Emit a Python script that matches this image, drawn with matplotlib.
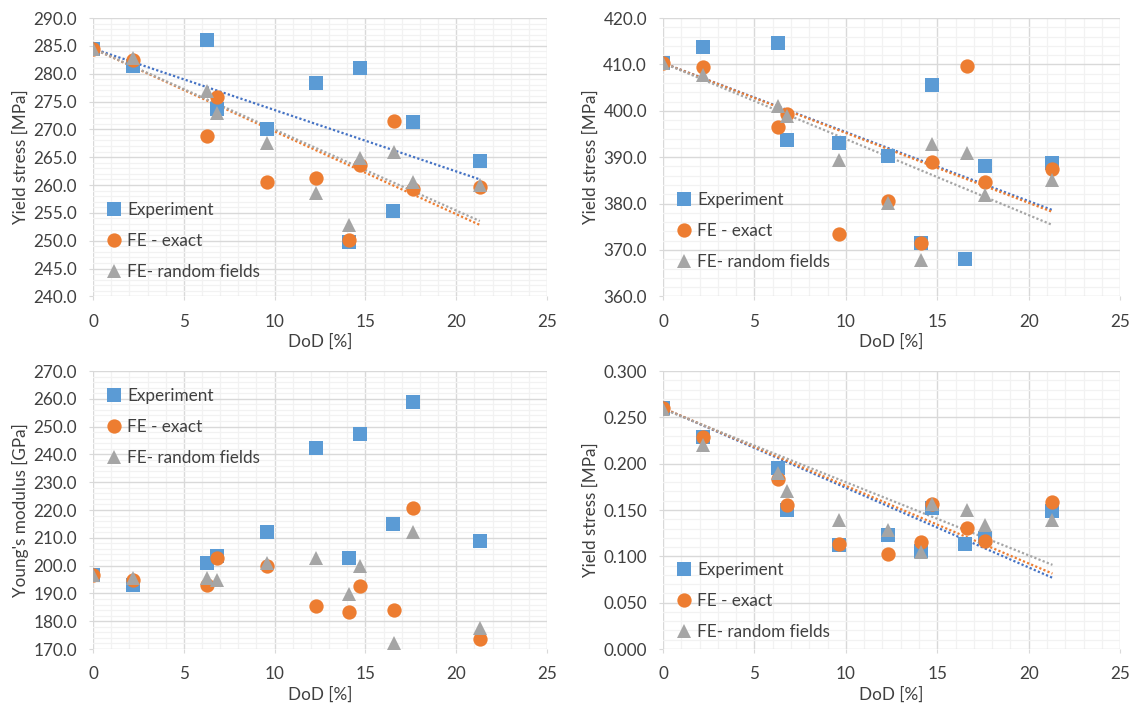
import numpy as np
import matplotlib
matplotlib.use("Agg")
import matplotlib.pyplot as plt
from matplotlib.ticker import MultipleLocator, FormatStrFormatter

plt.rcParams['font.family'] = ['Lato', 'DejaVu Sans']

# DoD [%] for all samples
dod = [0, 2.2, 6.3, 6.8, 9.6, 12.3, 14.1, 14.7, 16.6, 17.6, 21.3]
dod_exp = [0, 2.2, 6.3, 6.8, 9.6, 12.3, 14.1, 14.7, 16.5, 17.6, 21.3]

# panel 1 - yield stress [MPa]
ys1_exp = [284.5, 281.3, 286.1, 273.7, 270.1, 278.3, 249.7, 281.1, 255.3, 271.4, 264.3]
ys1_fe = [284.5, 282.4, 268.8, 275.8, 260.5, 261.3, 250.1, 263.6, 271.5, 259.3, 259.7]
ys1_rf = [284.5, 282.8, 276.8, 273.0, 267.5, 258.5, 252.9, 264.8, 266.0, 260.5, 260.0]

# panel 2 - yield stress [MPa]
ys2_exp = [410.3, 413.8, 414.7, 393.6, 393.0, 390.3, 371.5, 405.5, 368.0, 388.0, 388.8]
ys2_fe = [410.3, 409.4, 396.5, 399.3, 373.5, 380.5, 371.5, 388.9, 409.6, 384.6, 387.5]
ys2_rf = [410.3, 407.8, 401.0, 398.8, 389.3, 380.1, 367.8, 392.9, 391.0, 381.8, 385.0]

# panel 3 - Young's modulus [GPa]
ym_exp = [196.5, 193.0, 201.0, 203.5, 212.0, 242.2, 202.6, 247.5, 215.0, 259.0, 208.8]
ym_fe = [196.5, 194.8, 193.0, 202.6, 200.0, 185.6, 183.4, 192.5, 184.1, 220.8, 173.7]
ym_rf = [196.5, 195.5, 195.6, 195.0, 201.0, 202.8, 189.8, 199.8, 172.2, 212.2, 177.4]

# panel 4 - yield stress [MPa]
ys4_exp = [0.260, 0.229, 0.195, 0.150, 0.112, 0.123, 0.106, 0.152, 0.113, 0.120, 0.149]
ys4_fe = [0.260, 0.229, 0.183, 0.155, 0.113, 0.102, 0.116, 0.156, 0.131, 0.117, 0.159]
ys4_rf = [0.259, 0.220, 0.190, 0.171, 0.139, 0.128, 0.105, 0.157, 0.150, 0.134, 0.139]

labels = ['Experiment', 'FE - exact', 'FE- random fields']
colors = ['#5B9BD5', '#ED7D31', '#A5A5A5']
tcolors = ['#4472C4', '#ED7D31', '#A5A5A5']
markers = ['s', 'o', '^']
msizes = [9.8, 10.3, 10.3]

FS = 12.3
TXT = '#404040'


def trend(x, y):
    # linear trend, intercept fixed to the first value (as in excel)
    x = np.asarray(x, float)
    y = np.asarray(y, float)
    b = y[0]
    k = np.sum(x * (y - b)) / np.sum(x * x)
    xs = np.array([x.min(), x.max()])
    return xs, b + k * xs


def panel(ax, series, ylim, ymaj, ymin, fmt, ylabel, leg_anchor, leg_loc, trendlines=True):
    xs_list = [dod_exp, dod, dod]
    for i, ys in enumerate(series):
        ax.plot(xs_list[i], ys, linestyle='none', marker=markers[i], color=colors[i],
                markersize=msizes[i], markeredgewidth=0, label=labels[i], zorder=3 + i)
    if trendlines:
        for i, ys in enumerate(series):
            tx, ty = trend(xs_list[i], ys)
            ax.plot(tx, ty, color=tcolors[i], linestyle=(0, (1, 1)), linewidth=1.6, zorder=2.5)
    ax.set_xlim(0, 25)
    ax.set_ylim(*ylim)
    ax.xaxis.set_major_locator(MultipleLocator(5))
    ax.xaxis.set_minor_locator(MultipleLocator(1))
    ax.yaxis.set_major_locator(MultipleLocator(ymaj))
    ax.yaxis.set_minor_locator(MultipleLocator(ymin))
    ax.yaxis.set_major_formatter(FormatStrFormatter(fmt))
    ax.grid(which='major', color='#D9D9D9', linewidth=1.0, zorder=0)
    ax.grid(which='minor', color='#F2F2F2', linewidth=0.9, zorder=0)
    ax.set_axisbelow(True)
    for s in ax.spines.values():
        s.set_visible(False)
    ax.tick_params(which='major', length=3, color='#D9D9D9', labelsize=FS, labelcolor=TXT)
    ax.tick_params(axis='x', which='major', pad=9.5)
    ax.tick_params(axis='y', which='major', pad=8.5)
    ax.tick_params(which='minor', length=0)
    ax.set_xlabel('DoD [%]', fontsize=FS, color=TXT, labelpad=3)
    ax.set_ylabel(ylabel, fontsize=FS, color=TXT, labelpad=3)
    ax.legend(loc=leg_loc, bbox_to_anchor=leg_anchor, frameon=False, fontsize=FS,
              labelspacing=0.88, handlelength=0.9, handletextpad=0.3,
              borderpad=0, borderaxespad=0, labelcolor=TXT)


fig = plt.figure(figsize=(11.36, 7.09), dpi=100)
ax1 = fig.add_axes([0.0819, 0.582, 0.3996, 0.3926])
ax2 = fig.add_axes([0.5836, 0.582, 0.4024, 0.3926])
ax3 = fig.add_axes([0.0819, 0.0846, 0.3996, 0.3921])
ax4 = fig.add_axes([0.5836, 0.0846, 0.4024, 0.3921])

panel(ax1, [ys1_exp, ys1_fe, ys1_rf], (240, 290), 5, 1, '%.1f',
      'Yield stress [MPa]', (0.03, 0.06), 'lower left')
panel(ax2, [ys2_exp, ys2_fe, ys2_rf], (360, 420), 10, 2, '%.1f',
      'Yield stress [MPa]', (0.03, 0.094), 'lower left')
panel(ax3, [ym_exp, ym_fe, ym_rf], (170, 270), 10, 2, '%.1f',
      "Young's modulus [GPa]", (0.03, 0.94), 'upper left', trendlines=False)
panel(ax4, [ys4_exp, ys4_fe, ys4_rf], (0, 0.3), 0.05, 0.01, '%.3f',
      'Yield stress [MPa]', (0.03, 0.031), 'lower left')

fig.savefig('out.png', dpi=100)
